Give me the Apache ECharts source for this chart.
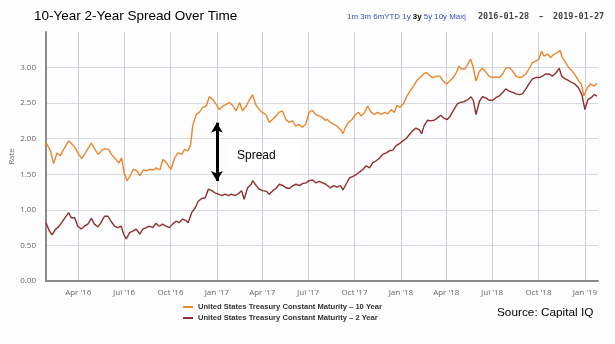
<!DOCTYPE html>
<html><head><meta charset="utf-8">
<script src="https://cdn.jsdelivr.net/npm/echarts@6/dist/echarts.min.js"></script>
<style>html,body{margin:0;padding:0;background:#fff}#c{width:615px;height:344px}</style>
</head><body><div id="c"></div>
<script>
const chartTitle = '10-Year 2-Year Spread Over Time';
const seriesNames = ['United States Treasury Constant Maturity \u2013 10 Year', 'United States Treasury Constant Maturity \u2013 2 Year'];
const rangeStart = '2016-01-28';
const rangeEnd = '2019-01-27';
const xTickDates = ['2016-04-01','2016-07-01','2016-10-01','2017-01-01','2017-04-01','2017-07-01','2017-10-01','2018-01-01','2018-04-01','2018-07-01','2018-10-01','2019-01-01'];
const monthNames = ['Jan','Feb','Mar','Apr','May','Jun','Jul','Aug','Sep','Oct','Nov','Dec'];
const yMin = 0, yMax = 3.5, yStep = 0.5;
const spreadDate = '2017-01-01';
const spreadTop = 2.225;
const spreadBottom = 1.405;

const tenYear = [
['2016-01-28',1.95],['2016-01-30',1.97],['2016-02-06',1.83],['2016-02-12',1.65],['2016-02-19',1.80],['2016-02-25',1.76],['2016-03-03',1.85],['2016-03-13',1.97],['2016-03-19',1.93],['2016-03-26',1.87],['2016-04-02',1.78],['2016-04-08',1.72],['2016-04-15',1.80],['2016-04-21',1.87],['2016-04-27',1.94],['2016-05-04',1.85],['2016-05-11',1.78],['2016-05-18',1.84],['2016-05-24',1.86],['2016-05-31',1.85],['2016-06-06',1.78],['2016-06-14',1.71],['2016-06-21',1.66],['2016-06-26',1.73],['2016-07-01',1.52],['2016-07-07',1.41],['2016-07-13',1.48],['2016-07-19',1.57],['2016-07-26',1.55],['2016-08-01',1.48],['2016-08-08',1.56],['2016-08-15',1.55],['2016-08-21',1.57],['2016-08-28',1.56],['2016-09-03',1.59],['2016-09-10',1.56],['2016-09-16',1.71],['2016-09-23',1.66],['2016-10-02',1.57],['2016-10-09',1.73],['2016-10-16',1.80],['2016-10-23',1.78],['2016-10-29',1.85],['2016-11-05',1.83],['2016-11-10',1.92],['2016-11-14',2.18],['2016-11-21',2.34],['2016-11-27',2.37],['2016-12-04',2.44],['2016-12-11',2.46],['2016-12-17',2.59],['2016-12-24',2.55],['2016-12-31',2.48],
['2017-01-06',2.41],['2017-01-13',2.46],['2017-01-19',2.48],['2017-01-26',2.51],['2017-02-02',2.46],['2017-02-08',2.39],['2017-02-15',2.51],['2017-02-21',2.39],['2017-02-28',2.46],['2017-03-07',2.55],['2017-03-13',2.62],['2017-03-19',2.48],['2017-03-26',2.41],['2017-04-01',2.37],['2017-04-08',2.34],['2017-04-15',2.23],['2017-04-21',2.27],['2017-04-28',2.32],['2017-05-04',2.37],['2017-05-11',2.39],['2017-05-18',2.27],['2017-05-24',2.23],['2017-05-31',2.25],['2017-06-06',2.18],['2017-06-13',2.20],['2017-06-19',2.16],['2017-06-26',2.20],['2017-07-03',2.37],['2017-07-09',2.40],['2017-07-16',2.34],['2017-07-23',2.32],['2017-07-29',2.30],['2017-08-04',2.26],['2017-08-08',2.27],['2017-08-14',2.23],['2017-08-21',2.20],['2017-08-27',2.18],['2017-09-03',2.13],['2017-09-08',2.07],['2017-09-13',2.16],['2017-09-19',2.23],['2017-09-26',2.27],['2017-10-03',2.34],['2017-10-09',2.37],['2017-10-14',2.32],['2017-10-21',2.37],['2017-10-27',2.46],['2017-11-03',2.37],['2017-11-10',2.34],['2017-11-16',2.37],['2017-11-23',2.34],['2017-11-30',2.37],['2017-12-06',2.35],['2017-12-13',2.41],['2017-12-19',2.37],['2017-12-24',2.47],['2017-12-30',2.44],
['2018-01-06',2.49],['2018-01-13',2.60],['2018-01-19',2.67],['2018-01-26',2.74],['2018-02-02',2.82],['2018-02-08',2.86],['2018-02-15',2.91],['2018-02-21',2.93],['2018-02-28',2.88],['2018-03-06',2.86],['2018-03-13',2.88],['2018-03-19',2.88],['2018-03-26',2.81],['2018-04-02',2.77],['2018-04-08',2.81],['2018-04-15',2.86],['2018-04-21',2.93],['2018-04-26',3.02],['2018-05-01',2.98],['2018-05-08',2.98],['2018-05-14',3.05],['2018-05-19',3.12],['2018-05-24',3.02],['2018-05-30',2.81],['2018-06-06',2.95],['2018-06-12',2.99],['2018-06-19',2.93],['2018-06-25',2.88],['2018-07-02',2.86],['2018-07-09',2.87],['2018-07-15',2.86],['2018-07-22',2.91],['2018-07-28',2.99],['2018-08-04',3.00],['2018-08-11',2.95],['2018-08-17',2.88],['2018-08-24',2.86],['2018-08-30',2.87],['2018-09-06',2.91],['2018-09-12',2.98],['2018-09-19',3.07],['2018-09-26',3.09],['2018-10-02',3.12],['2018-10-07',3.23],['2018-10-12',3.16],['2018-10-19',3.19],['2018-10-25',3.14],['2018-11-01',3.19],['2018-11-07',3.21],['2018-11-13',3.24],['2018-11-17',3.14],['2018-11-24',3.07],['2018-11-30',3.00],['2018-12-07',2.95],['2018-12-14',2.88],['2018-12-20',2.81],['2018-12-25',2.77],['2018-12-30',2.60],['2019-01-06',2.72],['2019-01-12',2.77],['2019-01-19',2.74],['2019-01-25',2.78]
];

const twoYear = [
['2016-01-28',0.82],['2016-01-30',0.80],['2016-02-04',0.70],['2016-02-09',0.65],['2016-02-16',0.73],['2016-02-22',0.76],['2016-02-28',0.82],['2016-03-06',0.89],['2016-03-13',0.96],['2016-03-18',0.89],['2016-03-25',0.89],['2016-03-31',0.77],['2016-04-07',0.73],['2016-04-13',0.77],['2016-04-20',0.80],['2016-04-27',0.88],['2016-05-03',0.80],['2016-05-10',0.76],['2016-05-16',0.82],['2016-05-23',0.91],['2016-05-30',0.91],['2016-06-05',0.84],['2016-06-12',0.77],['2016-06-18',0.75],['2016-06-25',0.77],['2016-06-30',0.66],['2016-07-05',0.59],['2016-07-12',0.68],['2016-07-18',0.70],['2016-07-25',0.73],['2016-08-01',0.66],['2016-08-07',0.73],['2016-08-14',0.75],['2016-08-20',0.77],['2016-08-27',0.75],['2016-09-02',0.81],['2016-09-09',0.77],['2016-09-15',0.80],['2016-09-22',0.77],['2016-09-29',0.75],['2016-10-05',0.80],['2016-10-12',0.84],['2016-10-18',0.82],['2016-10-25',0.87],['2016-11-01',0.85],['2016-11-05',0.82],['2016-11-08',0.80],['2016-11-12',0.96],['2016-11-19',1.03],['2016-11-25',1.12],['2016-12-02',1.16],['2016-12-09',1.17],['2016-12-15',1.29],['2016-12-22',1.27],['2016-12-28',1.24],
['2017-01-04',1.22],['2017-01-11',1.20],['2017-01-17',1.22],['2017-01-24',1.20],['2017-01-30',1.22],['2017-02-06',1.20],['2017-02-13',1.23],['2017-02-19',1.27],['2017-02-24',1.15],['2017-03-03',1.31],['2017-03-10',1.36],['2017-03-13',1.41],['2017-03-20',1.34],['2017-03-26',1.29],['2017-04-02',1.27],['2017-04-09',1.26],['2017-04-15',1.22],['2017-04-22',1.27],['2017-04-28',1.30],['2017-05-05',1.36],['2017-05-12',1.34],['2017-05-18',1.31],['2017-05-25',1.30],['2017-06-01',1.34],['2017-06-07',1.36],['2017-06-14',1.34],['2017-06-20',1.37],['2017-06-27',1.38],['2017-07-03',1.41],['2017-07-10',1.42],['2017-07-16',1.38],['2017-07-23',1.40],['2017-07-30',1.38],['2017-08-05',1.36],['2017-08-08',1.34],['2017-08-14',1.31],['2017-08-21',1.34],['2017-08-27',1.32],['2017-09-03',1.34],['2017-09-08',1.28],['2017-09-15',1.37],['2017-09-21',1.45],['2017-09-28',1.47],['2017-10-05',1.50],['2017-10-11',1.53],['2017-10-18',1.57],['2017-10-24',1.62],['2017-10-31',1.59],['2017-11-06',1.66],['2017-11-13',1.69],['2017-11-20',1.73],['2017-11-26',1.78],['2017-12-03',1.80],['2017-12-09',1.83],['2017-12-16',1.84],['2017-12-22',1.90],['2017-12-29',1.93],
['2018-01-05',1.97],['2018-01-11',2.00],['2018-01-18',2.06],['2018-01-24',2.11],['2018-01-31',2.15],['2018-02-07',2.12],['2018-02-11',2.07],['2018-02-16',2.18],['2018-02-23',2.26],['2018-03-01',2.25],['2018-03-08',2.26],['2018-03-14',2.29],['2018-03-21',2.33],['2018-03-27',2.29],['2018-04-03',2.27],['2018-04-09',2.32],['2018-04-16',2.41],['2018-04-23',2.49],['2018-04-29',2.51],['2018-05-06',2.52],['2018-05-14',2.55],['2018-05-20',2.59],['2018-05-25',2.53],['2018-05-30',2.34],['2018-06-06',2.53],['2018-06-12',2.59],['2018-06-19',2.57],['2018-06-25',2.54],['2018-07-02',2.54],['2018-07-09',2.58],['2018-07-15',2.60],['2018-07-22',2.65],['2018-07-28',2.70],['2018-08-04',2.67],['2018-08-11',2.65],['2018-08-17',2.63],['2018-08-24',2.62],['2018-08-30',2.63],['2018-09-06',2.70],['2018-09-12',2.77],['2018-09-19',2.84],['2018-09-26',2.86],['2018-10-02',2.86],['2018-10-09',2.88],['2018-10-15',2.91],['2018-10-22',2.91],['2018-10-29',2.88],['2018-11-04',2.92],['2018-11-11',2.99],['2018-11-16',2.88],['2018-11-23',2.84],['2018-11-29',2.82],['2018-12-06',2.79],['2018-12-12',2.77],['2018-12-19',2.72],['2018-12-26',2.62],['2019-01-01',2.41],['2019-01-07',2.55],['2019-01-14',2.58],['2019-01-20',2.62],['2019-01-25',2.60]
];

function ts(s){ const p = s.split('-').map(Number); return new Date(p[0], p[1]-1, p[2]).getTime(); }
const tickValues = xTickDates.map(ts);
const toXY = arr => arr.map(d => [ts(d[0]), d[1]]);
const nSplit = Math.round((yMax - yMin) / yStep) + 1;
const splitColors = [];
for (let i = 0; i < nSplit; i++) splitColors.push(i === nSplit - 1 ? 'rgba(0,0,0,0)' : '#d6dae2');

const chart = echarts.init(document.getElementById('c'), null, {renderer: 'canvas'});
const labelFont = 'Open Sans, Liberation Sans, sans-serif';
chart.setOption({
  animation: false,
  backgroundColor: '#fdfdfe',
  grid: {left: 46, right: 17, top: 32, bottom: 63, containLabel: false, outerBoundsMode: 'none'},
  legend: {
    orient: 'vertical', left: 178, top: 298, itemWidth: 10, itemHeight: 2, itemGap: 3,
    icon: 'rect', selectedMode: false,
    textStyle: {fontSize: 7.6, fontWeight: 'bold', color: '#333', fontFamily: 'Liberation Sans, Arial, sans-serif'},
    data: seriesNames
  },
  xAxis: {
    type: 'value', min: ts(rangeStart), max: ts(rangeEnd),
    axisLine: {show: true, onZero: false, lineStyle: {color: '#8a8a8a', width: 2}},
    axisTick: {show: false, customValues: tickValues},
    axisLabel: {customValues: tickValues, fontSize: 8, color: '#666', margin: 8, fontFamily: labelFont,
      formatter: v => { const d = new Date(v); return monthNames[d.getMonth()] + " '" + String(d.getFullYear()).slice(2); }},
    splitLine: {show: true, lineStyle: {color: '#ccd0d8', width: 1}}
  },
  yAxis: {
    type: 'value', min: yMin, max: yMax, interval: yStep,
    name: 'Rate', nameLocation: 'middle', nameGap: 30, nameMoveOverlap: false,
    nameTextStyle: {fontSize: 8, color: '#777', fontFamily: labelFont},
    axisLine: {show: true, lineStyle: {color: '#8a8a8a', width: 2}},
    axisTick: {show: false},
    axisLabel: {fontSize: 8, color: '#666', margin: 10, fontFamily: labelFont, showMaxLabel: false,
      formatter: v => v.toFixed(2)},
    splitLine: {show: true, lineStyle: {color: splitColors, width: 1}}
  },
  series: [
    {name: seriesNames[0], type: 'line', data: toXY(tenYear), showSymbol: false, color: '#e8872e',
      lineStyle: {width: 1.4, color: '#e8872e'},
      markLine: {silent: true, symbol: ['arrow', 'arrow'], symbolSize: [9, 10],
        lineStyle: {color: '#000', width: 3, type: 'solid'}, label: {show: false},
        data: [[{coord: [ts(spreadDate), spreadTop]}, {coord: [ts(spreadDate), spreadBottom]}]]}},
    {name: seriesNames[1], type: 'line', data: toXY(twoYear), showSymbol: false, color: '#8e2f2f',
      lineStyle: {width: 1.4, color: '#8e2f2f'}}
  ],
  graphic: [
    {type: 'text', left: 34, top: 9, style: {text: chartTitle, font: '13.5px "Liberation Sans", Arial, sans-serif', fill: '#000'}},
    {type: 'text', left: 347, top: 13, style: {
      text: '{b|1m 3m 6mYTD 1y }{k|3y}{b| 5y 10y Max|}',
      rich: {b: {fontSize: 7.9, fill: '#3b4db5', fontFamily: 'Liberation Sans, sans-serif'},
             k: {fontSize: 7.9, fill: '#000', fontWeight: 'bold', fontFamily: 'Liberation Sans, sans-serif'}}}},
    {type: 'text', left: 478, top: 12, style: {text: rangeStart, font: 'bold 8.5px "DejaVu Sans Mono", monospace', fill: '#444'}},
    {type: 'text', left: 539, top: 12, style: {text: '\u2013', font: 'bold 8.5px "DejaVu Sans", sans-serif', fill: '#444'}},
    {type: 'text', left: 553, top: 12, style: {text: rangeEnd, font: 'bold 8.5px "DejaVu Sans Mono", monospace', fill: '#444'}},
    {type: 'rect', left: 226, top: 143, shape: {width: 73, height: 25}, style: {fill: '#fff'}},
    {type: 'text', left: 237, top: 150, style: {text: 'Spread', font: '12px "Liberation Sans", Arial, sans-serif', fill: '#000'}},
    {type: 'text', left: 497, top: 307, style: {text: 'Source: Capital IQ', font: '11.8px "Liberation Sans", Arial, sans-serif', fill: '#000'}}
  ]
});
</script>
</body></html>
